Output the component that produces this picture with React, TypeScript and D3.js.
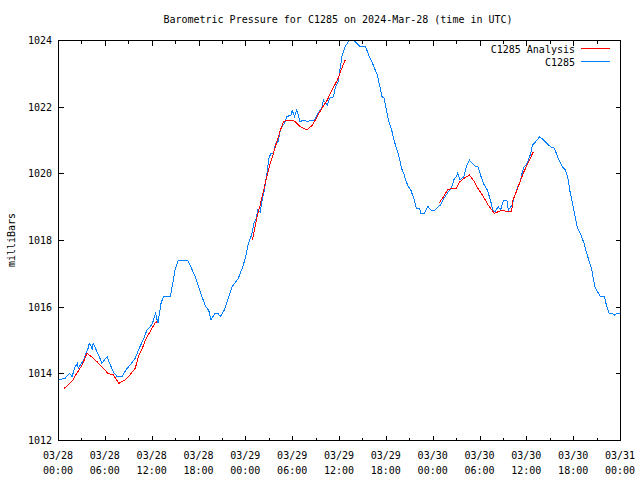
import * as d3 from 'd3';

// pressure chart for C1285, gnuplot look-alike

const MARGIN = { top: 40, right: 20, bottom: 40, left: 58 };
const WIDTH = 640;
const HEIGHT = 480;
const START = Date.UTC(2024, 2, 28, 0, 0);
const FONT = '"DejaVu Sans Mono", "Liberation Mono", monospace';

// hours since 03/28 00:00 UTC
const obsHours = [
    0.0, 0.9, 1.5, 1.8, 2.2, 2.5, 2.6, 3.0, 3.3, 3.6, 3.8, 4.0, 4.3, 4.4, 4.5, 4.9, 5.3, 5.6, 6.3, 6.6,
    6.9, 7.2, 7.6, 8.2, 8.7, 9.4, 9.9, 10.3, 10.9, 11.4, 11.8, 12.1, 12.5, 12.8, 13.2, 13.5, 14.4, 14.7,
    15.0, 15.4, 16.6, 17.2, 17.6, 18.0, 18.6, 18.9, 19.3, 19.6, 20.1, 20.5, 20.8, 21.3, 21.8, 22.3, 22.8,
    23.1, 23.6, 24.0, 24.4, 24.8, 25.1, 25.4, 25.6, 25.9, 26.2, 26.4, 26.6, 26.8, 27.0, 27.3, 27.6, 27.9,
    28.2, 28.5, 28.7, 29.0, 29.3, 29.9, 30.0, 30.3, 30.6, 31.0, 31.5, 32.0, 32.3, 32.9, 33.3, 33.8, 34.0,
    34.5, 34.8, 35.3, 35.5, 35.9, 36.4, 36.8, 37.3, 37.6, 38.1, 38.7, 39.4, 39.8, 40.3, 40.9, 41.2, 41.5,
    41.8, 42.1, 42.4, 42.8, 43.1, 43.3, 43.5, 43.8, 44.0, 44.3, 44.6, 44.9, 45.2, 45.5, 45.7, 45.9, 46.3,
    46.5, 46.9, 47.4, 47.8, 48.3, 48.7, 49.0, 49.3, 49.6, 50.0, 50.4, 50.7, 51.0, 51.2, 51.5, 52.0, 52.3,
    52.7, 53.1, 53.5, 53.8, 54.2, 54.6, 55.0, 55.4, 55.7, 56.0, 56.4, 56.7, 57.1, 57.5, 57.7, 58.2, 58.4,
    58.9, 59.2, 59.5, 59.7, 60.0, 60.5, 60.8, 61.2, 61.7, 62.2, 62.6, 63.1, 63.6, 64.0, 64.6, 65.0, 65.3,
    65.6, 66.0, 66.5, 66.9, 67.4, 67.6, 68.0, 68.4, 68.6, 68.8, 69.0, 69.5, 70.0, 70.2, 70.6, 71.0, 71.3,
    71.6, 72.0,
];
const obsPressure = [
    1013.8, 1013.85, 1014.0, 1013.9, 1014.2, 1014.3, 1014.15, 1014.3, 1014.4, 1014.6, 1014.7, 1014.9,
    1014.8, 1014.7, 1014.9, 1014.7, 1014.5, 1014.3, 1014.5, 1014.3, 1014.15, 1014.0, 1013.9, 1013.9,
    1014.1, 1014.3, 1014.45, 1014.7, 1015.0, 1015.3, 1015.4, 1015.5, 1015.8, 1015.5, 1016.1, 1016.3,
    1016.3, 1016.7, 1017.1, 1017.4, 1017.4, 1017.1, 1016.9, 1016.6, 1016.2, 1016.0, 1015.9, 1015.6,
    1015.8, 1015.8, 1015.7, 1015.9, 1016.25, 1016.6, 1016.75, 1016.85, 1017.15, 1017.45, 1017.9,
    1018.15, 1018.5, 1018.65, 1018.9, 1018.85, 1019.25, 1019.45, 1019.75, 1020.05, 1020.45, 1020.6,
    1020.6, 1020.9, 1020.95, 1021.3, 1021.4, 1021.5, 1021.7, 1021.75, 1021.9, 1021.7, 1021.9, 1021.55,
    1021.6, 1021.55, 1021.6, 1021.6, 1021.8, 1021.95, 1022.2, 1022.05, 1022.25, 1022.3, 1022.55,
    1022.75, 1023.55, 1023.8, 1024.0, 1024.0, 1023.95, 1023.8, 1023.8, 1023.55, 1023.3, 1022.95,
    1022.65, 1022.3, 1022.25, 1021.85, 1021.55, 1021.25, 1020.95, 1020.8, 1020.65, 1020.4, 1020.15,
    1020.0, 1019.75, 1019.6, 1019.5, 1019.3, 1019.15, 1018.95, 1018.95, 1018.8, 1018.8, 1019.0, 1018.9,
    1018.9, 1019.0, 1019.05, 1019.2, 1019.3, 1019.45, 1019.55, 1019.8, 1019.9, 1020.0, 1019.8, 1019.9,
    1020.2, 1020.4, 1020.3, 1020.2, 1020.2, 1019.9, 1019.65, 1019.5, 1019.2, 1018.9, 1018.85, 1019.0,
    1018.9, 1019.2, 1019.2, 1018.9, 1019.05, 1019.25, 1019.6, 1019.75, 1020.05, 1020.2, 1020.25,
    1020.55, 1020.85, 1020.95, 1021.1, 1021.0, 1020.9, 1020.8, 1020.75, 1020.5, 1020.2, 1020.1, 1019.9,
    1019.45, 1019.0, 1018.4, 1018.2, 1017.9, 1017.7, 1017.4, 1017.1, 1016.8, 1016.6, 1016.5, 1016.3,
    1016.3, 1016.1, 1015.8, 1015.8, 1015.75, 1015.8, 1015.8,
];

// analysis runs, three separate pieces (gaps between)
const anlHours = [
    [0.8, 1.3, 1.9, 2.4, 3.1, 3.7, 4.3, 5.0, 5.6, 6.4, 7.1, 7.8, 8.6, 9.2, 9.9, 10.3, 10.8, 11.2, 11.8, 12.4, 12.7],
    [24.9, 25.5, 25.9, 26.3, 26.8, 27.2, 27.6, 28.1, 28.5, 28.9, 29.4, 29.9, 30.4, 31.0, 31.9, 32.6, 33.2, 33.8, 34.5, 35.1, 35.8, 36.2, 36.6, 36.8],
    [48.8, 49.4, 49.9, 50.5, 51.0, 51.5, 52.0, 52.7, 53.2, 53.8, 54.5, 55.1, 55.9, 56.4, 56.9, 57.6, 58.1, 58.3, 58.8, 59.2, 59.6, 60.1, 60.5, 60.9],
];
const anlPressure = [
    [1013.55, 1013.65, 1013.8, 1014.0, 1014.25, 1014.6, 1014.5, 1014.35, 1014.2, 1014.0, 1013.95, 1013.7, 1013.8, 1013.95, 1014.15, 1014.5, 1014.75, 1015.0, 1015.25, 1015.5, 1015.55],
    [1018.0, 1018.7, 1019.05, 1019.45, 1019.95, 1020.3, 1020.6, 1021.0, 1021.3, 1021.55, 1021.6, 1021.6, 1021.55, 1021.4, 1021.3, 1021.45, 1021.7, 1021.95, 1022.2, 1022.5, 1022.8, 1023.05, 1023.3, 1023.4],
    [1019.1, 1019.3, 1019.5, 1019.55, 1019.55, 1019.75, 1019.85, 1019.95, 1019.8, 1019.55, 1019.3, 1019.05, 1018.8, 1018.85, 1018.9, 1018.85, 1018.85, 1019.2, 1019.5, 1019.75, 1020.0, 1020.25, 1020.45, 1020.65],
];

const yTicks = [1012, 1014, 1016, 1018, 1020, 1022, 1024];
const seriesNames = ['C1285 Analysis', 'C1285'];
const seriesColors = ['#ff0000', '#0080ff'];

const toDate = (h: number) => new Date(START + h * 3600 * 1000);

export default function App() {
    const x = d3
        .scaleUtc()
        .domain([toDate(0), toDate(72)])
        .range([MARGIN.left, WIDTH - MARGIN.right]);
    const y = d3
        .scaleLinear()
        .domain([1012, 1024])
        .range([HEIGHT - MARGIN.bottom, MARGIN.top]);

    const line = d3
        .line<[number, number]>()
        .x((d) => x(toDate(d[0])))
        .y((d) => y(d[1]));

    const obsPath = line(obsHours.map((h, i) => [h, obsPressure[i]]));
    const anlPaths = anlHours.map((hs, k) => line(hs.map((h, i) => [h, anlPressure[k][i]])));

    const majorTicks = x.ticks(d3.utcHour.every(6)!);
    const minorTicks = x.ticks(d3.utcHour.every(3)!).filter((t) => t.getUTCHours() % 6 !== 0);
    const fmtDay = d3.utcFormat('%m/%d');
    const fmtTime = d3.utcFormat('%H:%M');

    const top = MARGIN.top + 0.5;
    const bottom = HEIGHT - MARGIN.bottom + 0.5;
    const left = MARGIN.left + 0.5;
    const right = WIDTH - MARGIN.right + 0.5;
    const px = (d: Date) => Math.round(x(d)) + 0.5;
    const py = (v: number) => Math.round(y(v)) + 0.5;

    return (
        <svg
            width={WIDTH}
            height={HEIGHT}
            style={{ position: 'absolute', left: 0, top: 0, background: '#fff' }}
            fontFamily={FONT}
            fontSize={10}
        >
            <text x={338} y={23} textAnchor="middle" fill="#000">
                Barometric Pressure for C1285 on 2024-Mar-28 (time in UTC)
            </text>

            <g stroke="#000" strokeWidth={1} shapeRendering="crispEdges">
                {majorTicks.map((t, i) => (
                    <g key={'M' + i}>
                        <line x1={px(t)} x2={px(t)} y1={bottom} y2={bottom - 5} />
                        <line x1={px(t)} x2={px(t)} y1={top} y2={top + 5} />
                    </g>
                ))}
                {minorTicks.map((t, i) => (
                    <g key={'m' + i}>
                        <line x1={px(t)} x2={px(t)} y1={bottom} y2={bottom - 3} />
                        <line x1={px(t)} x2={px(t)} y1={top} y2={top + 3} />
                    </g>
                ))}
                {yTicks.map((v) => (
                    <g key={v}>
                        <line x1={left} x2={left + 5} y1={py(v)} y2={py(v)} />
                        <line x1={right} x2={right - 5} y1={py(v)} y2={py(v)} />
                    </g>
                ))}
            </g>

            {yTicks.map((v) => (
                <text key={v} x={52} y={y(v) + 4} textAnchor="end" fill="#000">
                    {v}
                </text>
            ))}
            {majorTicks.map((t, i) => (
                <g key={i} fill="#000">
                    <text x={x(t)} y={459} textAnchor="middle">
                        {fmtDay(t)}
                    </text>
                    <text x={x(t)} y={474} textAnchor="middle">
                        {fmtTime(t)}
                    </text>
                </g>
            ))}
            <text transform="translate(15,240) rotate(-90)" textAnchor="middle" fill="#000">
                milliBars
            </text>

            <path d={obsPath ?? ''} fill="none" stroke={seriesColors[1]} strokeWidth={1} shapeRendering="crispEdges" />
            {anlPaths.map((p, i) => (
                <path key={i} d={p ?? ''} fill="none" stroke={seriesColors[0]} strokeWidth={1} shapeRendering="crispEdges" />
            ))}

            <rect
                x={left}
                y={top}
                width={right - left}
                height={bottom - top}
                fill="none"
                stroke="#000"
                shapeRendering="crispEdges"
            />

            {seriesNames.map((name, i) => (
                <g key={name}>
                    <text x={575} y={53 + i * 13} textAnchor="end" fill="#000">
                        {name}
                    </text>
                    <line
                        x1={581}
                        x2={610}
                        y1={48.5 + i * 13}
                        y2={48.5 + i * 13}
                        stroke={seriesColors[i]}
                        shapeRendering="crispEdges"
                    />
                </g>
            ))}
        </svg>
    );
}
